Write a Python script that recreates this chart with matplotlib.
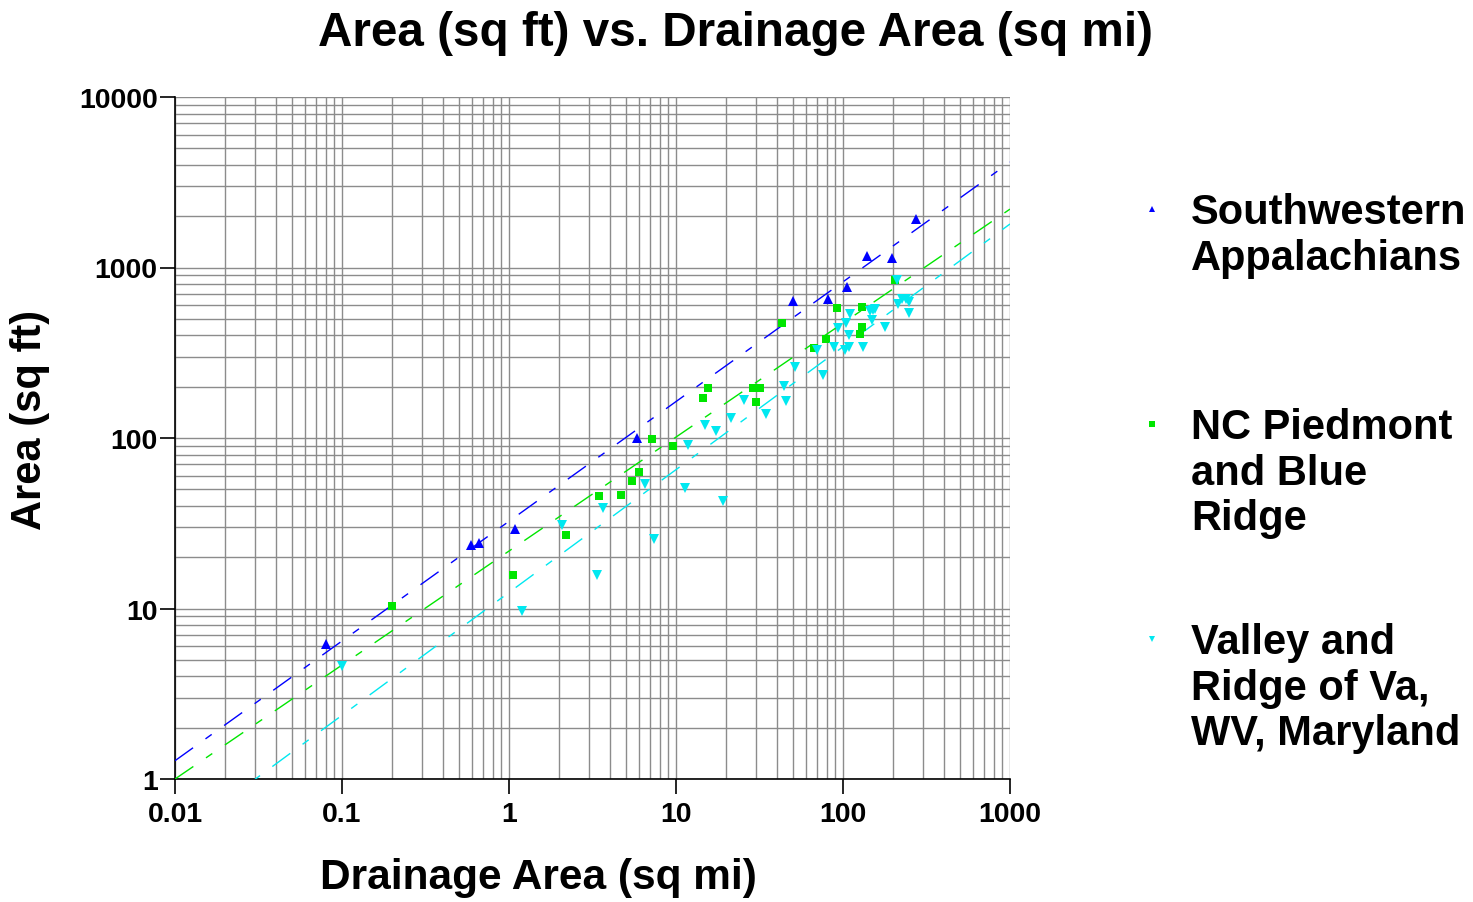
import matplotlib
matplotlib.use("Agg")
import matplotlib.pyplot as plt
from matplotlib.lines import Line2D
from matplotlib.ticker import FixedLocator, FixedFormatter, LogLocator, NullFormatter

plt.rcParams['font.family'] = ['Liberation Sans', 'DejaVu Sans']
plt.rcParams['font.weight'] = 'bold'

# Southwestern Appalachians (blue, up triangles)
sw_x = [0.080, 0.59, 0.66, 1.09, 5.84, 50.2, 81, 106, 139, 196, 274]
sw_y = [6.2, 23.6, 24.2, 29.3, 100, 636, 653, 769, 1168, 1137, 1924]

# NC Piedmont and Blue Ridge (green squares)
nc_x = [0.199, 1.06, 2.19, 3.46, 4.69, 5.45, 6.0, 7.18, 9.6, 14.5, 15.6,
        28.9, 31.8, 30.1, 43.1, 67, 79, 92, 130, 130, 126, 205]
nc_y = [10.3, 15.7, 27, 45.7, 46.3, 56, 63, 98.7, 89.8, 172, 196,
        196, 196, 163, 473, 337, 381, 579, 587, 448, 407, 845]

# Valley and Ridge of Va, WV, Maryland (cyan, down triangles)
vr_x = [0.1, 1.20, 3.37, 7.38, 2.08, 3.66, 6.52, 11.3, 19.1, 11.8, 14.9,
        17.4, 21.3, 25.5, 34.6, 45.6, 44.4, 51.6, 75.9, 69.8, 88.3, 103,
        109, 132, 93.3, 104, 109, 110, 145, 152, 155, 149, 178, 210, 213,
        225, 237, 248, 248]
vr_y = [4.6, 9.7, 15.7, 25.6, 30.9, 38.9, 53.7, 50.9, 42.7, 91, 119,
        110, 131, 167, 138, 165, 202, 261, 234, 328, 342, 328,
        342, 342, 442, 473, 402, 534, 556, 563, 570, 492, 448, 845, 611,
        653, 653, 628, 541]

# regression line end points
fit_x = [0.01, 1000]
sw_fit = [1.28, 4150]
nc_fit = [1.0, 2200]
vr_fit = [0.45, 1800]

x_ticks = [0.01, 0.1, 1, 10, 100, 1000]
x_labels = ['0.01', '0.1', '1', '10', '100', '1000']
y_ticks = [1, 10, 100, 1000, 10000]
y_labels = ['1', '10', '100', '1000', '10000']

labels = ['Southwestern\nAppalachians', 'NC Piedmont\nand Blue\nRidge',
          'Valley and\nRidge of Va,\nWV, Maryland']
colors = ['#0000FF', '#00E600', '#00E8F0']
markers = ['^', 's', 'v']
msizes = [7, 6, 7]

fig = plt.figure(figsize=(14.73, 9.03), dpi=100)
ax = fig.add_axes([175/1473, 1 - 780/903, 835/1473, 682/903])
ax.set_xscale('log')
ax.set_yscale('log')
ax.set_xlim(0.01, 1000)
ax.set_ylim(1, 10000)

dash = (16, 11, 5.5, 11)
for fy, c in zip([sw_fit, nc_fit, vr_fit], colors):
    ax.plot(fit_x, fy, color=c, lw=1, dashes=dash, zorder=3)

for xs, ys, c, m, ms in zip([sw_x, nc_x, vr_x], [sw_y, nc_y, vr_y], colors, markers, msizes):
    ax.plot(xs, ys, linestyle='none', marker=m, color=c, markersize=ms,
            markeredgewidth=0, zorder=4)

# grid
ax.xaxis.set_minor_locator(LogLocator(base=10, subs=range(2, 10)))
ax.yaxis.set_minor_locator(LogLocator(base=10, subs=range(2, 10)))
ax.xaxis.set_minor_formatter(NullFormatter())
ax.yaxis.set_minor_formatter(NullFormatter())
ax.grid(True, which='both', color='#8c8c8c', lw=1)
ax.set_axisbelow(True)
ax.tick_params(which='minor', length=0)

ax.xaxis.set_major_locator(FixedLocator(x_ticks))
ax.xaxis.set_major_formatter(FixedFormatter(x_labels))
ax.yaxis.set_major_locator(FixedLocator(y_ticks))
ax.yaxis.set_major_formatter(FixedFormatter(y_labels))
ax.tick_params(which='major', direction='out', length=11, width=1.2,
               labelsize=20.5)
ax.tick_params(axis='x', pad=5)
ax.tick_params(axis='y', pad=1.5)
for lab in ax.get_xticklabels() + ax.get_yticklabels():
    lab.set_fontweight('bold')

for s in ['top', 'right']:
    ax.spines[s].set_visible(False)
for s in ['left', 'bottom']:
    ax.spines[s].set_linewidth(1.2)

fig.text(735/1473, 1 - 34/903, 'Area (sq ft) vs. Drainage Area (sq mi)',
         ha='center', va='center', fontsize=34.3, fontweight='bold')
fig.text(538/1473, 1 - 878/903, 'Drainage Area (sq mi)',
         ha='center', va='center', fontsize=30.5, fontweight='bold')
fig.text(30/1473, 1 - 420/903, 'Area (sq ft)', rotation=90,
         ha='center', va='center', fontsize=30, fontweight='bold')

# legend drawn by hand
leg_marker_y = [210, 425, 640]
for yp, lab, c, m in zip(leg_marker_y, labels, colors, markers):
    fig.add_artist(Line2D([1152/1473], [1 - yp/903], marker=m, color=c,
                          markersize=5, markeredgewidth=0, linestyle='none',
                          transform=fig.transFigure))
    fig.text(1191/1473, 1 - (yp - 17)/903, lab, ha='left', va='top',
             fontsize=30, fontweight='bold', linespacing=1.18)

fig.savefig('out.png', dpi=100)
